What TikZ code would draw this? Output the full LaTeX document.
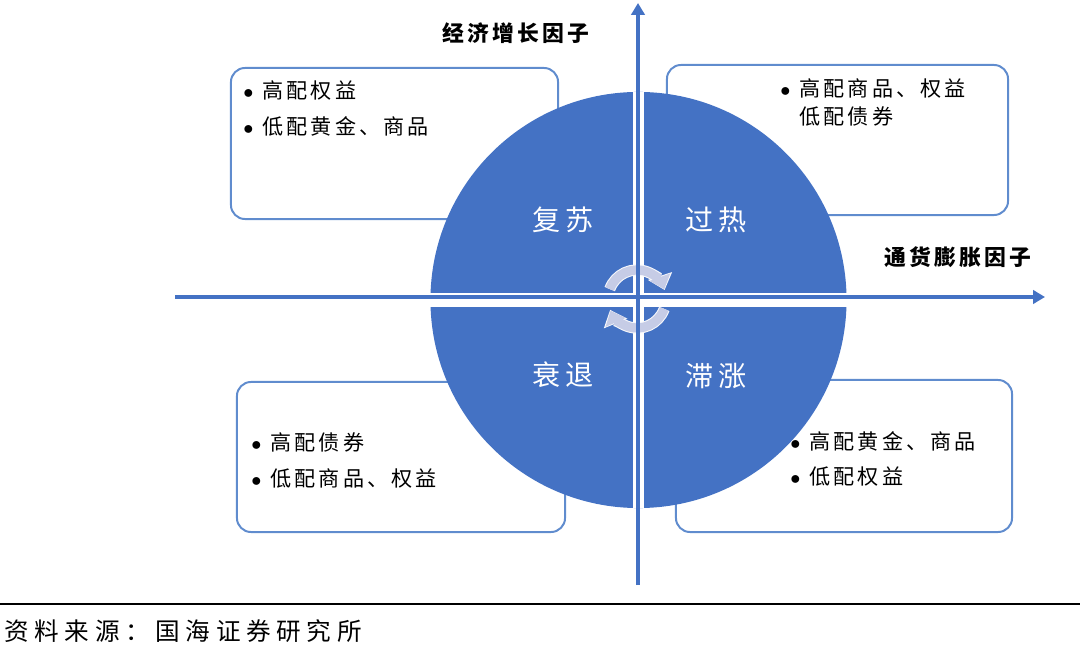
\documentclass[tikz,border=0pt]{standalone}
\usepackage{fontspec}
\setmainfont{Noto Sans CJK SC}
\newfontfamily\cardfont[LetterSpace=15]{Noto Sans CJK SC}
\newfontfamily\phasefont[LetterSpace=15]{Noto Sans CJK SC}
\newfontfamily\axisfont[LetterSpace=14]{Noto Sans CJK SC}
\newfontfamily\notefont[LetterSpace=23]{Noto Sans CJK SC}
\usepackage{tikz}
\usetikzlibrary{arrows.meta, calc}
\definecolor{wheelblue}{RGB}{68, 114, 196}
\definecolor{frameblue}{RGB}{96, 140, 206}
\definecolor{turngray}{RGB}{198, 204, 230}
\newcommand{\bul}{\makebox[13.5pt][l]{$\bullet$}}

\begin{document}
\begin{tikzpicture}[
    x=0.025cm, y=0.025cm,
    card/.style={rectangle, rounded corners=0.35cm, draw=frameblue, line width=1.4pt, fill=white},
    cardtext/.style={anchor=west, align=left, inner sep=0pt, font=\cardfont\fontsize{15pt}{24.9pt}\selectfont},
    phase/.style={text=white, inner sep=0pt, font=\phasefont\fontsize{20pt}{20pt}\selectfont},
    axislabel/.style={inner sep=0pt, font=\axisfont\bfseries\fontsize{15.5pt}{16pt}\selectfont},
    axis/.style={-{Triangle[length=8.5pt, width=9.5pt]}, line width=3.2pt, wheelblue},
    gap/.style={white, line width=#1},
    turn/.style={turngray, line width=6.5pt, -{Triangle[length=9pt, width=15pt]}},
    turnedge/.style={white!85!turngray, line width=8pt, -{Triangle[length=10.5pt, width=17.5pt]}}
]
\useasboundingbox (0,0) rectangle (1080,653);

% four allocation cards
\node[card, minimum width=8.175cm, minimum height=3.775cm] (recbox) at (394.5,509.5) {};
\node[card, minimum width=8.525cm, minimum height=3.75cm] (heatbox) at (837.5,513) {};
\node[card, minimum width=8.2cm, minimum height=3.75cm] (downbox) at (401,196) {};
\node[card, minimum width=8.4cm, minimum height=3.8cm] (stagbox) at (844,197) {};

% the cycle wheel
\node[circle, fill=wheelblue, minimum size=10.4cm, inner sep=0pt] (wheel) at (638.5,353) {};
\draw[gap=7.8pt] (wheel.north) -- (wheel.south);
\draw[gap=10pt] (wheel.west) -- (wheel.east);

\coordinate (turnc) at (637,354);
\draw[turnedge] ($(turnc)+(160:29)$) arc[start angle=160, end angle=18, radius=29];
\draw[turn] ($(turnc)+(160:29)$) arc[start angle=160, end angle=20, radius=29];
\draw[turnedge] ($(turnc)+(-20:29)$) arc[start angle=-20, end angle=-158, radius=29];
\draw[turn] ($(turnc)+(-20:29)$) arc[start angle=-20, end angle=-156, radius=29];

% axes
\coordinate (xstart) at (175,356);
\coordinate (xend) at (1045,356);
\coordinate (ybot) at (638,68);
\coordinate (ytop) at (638,650);
\draw[axis] (xstart) -- (xend);
\draw[axis] (ybot) -- (ytop);

\node[axislabel] (growth) at (516,620) {经济增长因子};
\node[axislabel] (inflation) at (958,396) {通货膨胀因子};

\node[phase] (recovery) at (563,433) {复苏};
\node[phase] (overheat) at (716,433) {过热};
\node[phase] (recession) at (563,278) {衰退};
\node[phase] (stagflation) at (716,277) {滞涨};

\node[cardtext] (rectext) at (243,544.5) {\bul 高配权益\\\bul 低配黄金、商品};
\node[cardtext, font=\cardfont\fontsize{15pt}{20.6pt}\selectfont] (heattext) at (780,550.5) {\bul 高配商品、权益\\\hphantom{\bul}低配债券};
\node[cardtext] (downtext) at (251,192.5) {\bul 高配债券\\\bul 低配商品、权益};
\node[cardtext] (stagtext) at (790,194) {\bul 高配黄金、商品\\\bul 低配权益};

% source line
\coordinate (ruleleft) at (0,49);
\coordinate (ruleright) at (1080,49);
\draw[line width=1pt] (ruleleft) -- (ruleright);
\node[anchor=west, inner sep=0pt, font=\notefont\fontsize{17.5pt}{18pt}\selectfont] (source) at (4,22) {资料来源：国海证券研究所};
\end{tikzpicture}
\end{document}
